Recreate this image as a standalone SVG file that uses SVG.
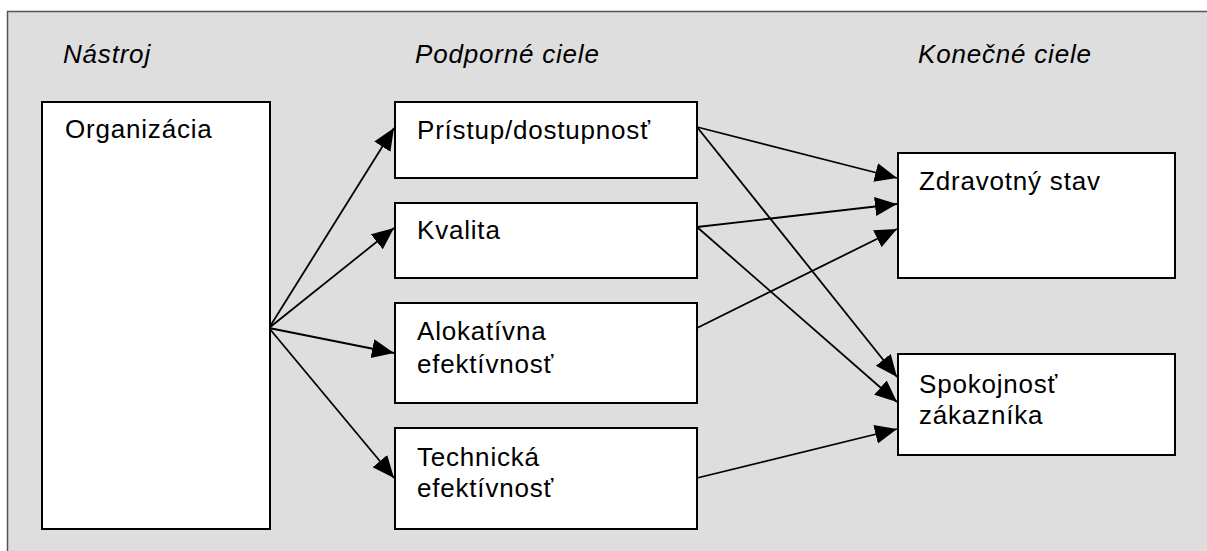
<svg xmlns="http://www.w3.org/2000/svg" width="1207" height="551" viewBox="0 0 1207 551">
<defs>
<style>
.box{fill:#ffffff;stroke:#000000;stroke-width:2}
.lbl{font-family:"Liberation Sans",Arial,Helvetica,sans-serif;font-size:26px;letter-spacing:0.8px;fill:#000000}
.hdr{font-family:"Liberation Sans",Arial,Helvetica,sans-serif;font-size:26px;font-style:italic;letter-spacing:0.8px;fill:#000000}
.arr{stroke:#000000;stroke-width:1.8;fill:none;marker-end:url(#ah)}
</style>
<marker id="ah" markerUnits="userSpaceOnUse" markerWidth="24" markerHeight="20" refX="22" refY="9.5" orient="auto">
<path d="M0,0 L22,9.5 L0,19 z" fill="#000000"/>
</marker>
</defs>
<rect x="0" y="0" width="1207" height="551" fill="#ffffff"/>
<rect id="frame" x="7.5" y="11.5" width="1215" height="560" fill="#dedede" stroke="#555555" stroke-width="1.5"/>
<g id="headers">
<text class="hdr" x="63" y="63">Nástroj</text>
<text class="hdr" x="415" y="63">Podporné ciele</text>
<text class="hdr" x="918" y="63">Konečné ciele</text>
</g>
<g id="connectors">
<line class="arr" x1="269" y1="328" x2="394" y2="128"/>
<line class="arr" x1="269" y1="328" x2="394" y2="228"/>
<line class="arr" x1="269" y1="328" x2="394" y2="353"/>
<line class="arr" x1="269" y1="328" x2="394" y2="478"/>
<line class="arr" x1="697" y1="127" x2="897" y2="178"/>
<line class="arr" x1="697" y1="227" x2="897" y2="204"/>
<line class="arr" x1="697" y1="328" x2="897" y2="229"/>
<line class="arr" x1="697" y1="127" x2="897" y2="377"/>
<line class="arr" x1="697" y1="227" x2="897" y2="402"/>
<line class="arr" x1="697" y1="478" x2="897" y2="429"/>
</g>
<g id="organizacia">
<rect class="box" x="42" y="102" width="228" height="427"/>
<text class="lbl" x="65" y="138">Organizácia</text>
</g>
<g id="pristup">
<rect class="box" x="395" y="102" width="302" height="76"/>
<text class="lbl" x="417" y="139">Prístup/dostupnosť</text>
</g>
<g id="kvalita">
<rect class="box" x="395" y="203" width="302" height="75"/>
<text class="lbl" x="417" y="239">Kvalita</text>
</g>
<g id="alokativna">
<rect class="box" x="395" y="303" width="302" height="100"/>
<text class="lbl" x="417" y="340">Alokatívna</text>
<text class="lbl" x="417" y="373">efektívnosť</text>
</g>
<g id="technicka">
<rect class="box" x="395" y="428" width="302" height="101"/>
<text class="lbl" x="417" y="466">Technická</text>
<text class="lbl" x="417" y="497">efektívnosť</text>
</g>
<g id="zdravotny">
<rect class="box" x="898" y="153" width="277" height="125"/>
<text class="lbl" x="919" y="190">Zdravotný stav</text>
</g>
<g id="spokojnost">
<rect class="box" x="898" y="354" width="277" height="101"/>
<text class="lbl" x="919" y="393">Spokojnosť</text>
<text class="lbl" x="919" y="424">zákazníka</text>
</g>
</svg>
